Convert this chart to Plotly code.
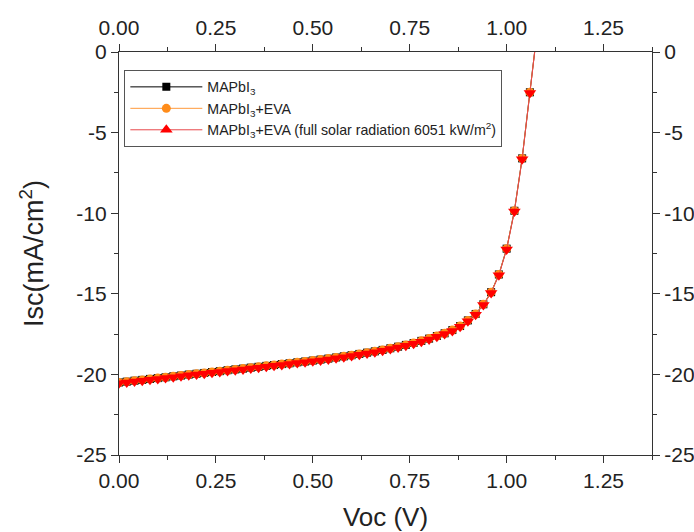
import plotly.graph_objects as go

voc = [0.00, 0.02, 0.04, 0.06, 0.08, 0.10, 0.12, 0.14, 0.16, 0.18,
       0.20, 0.22, 0.24, 0.26, 0.28, 0.30, 0.32, 0.34, 0.36, 0.38,
       0.40, 0.42, 0.44, 0.46, 0.48, 0.50, 0.52, 0.54, 0.56, 0.58,
       0.60, 0.62, 0.64, 0.66, 0.68, 0.70, 0.72, 0.74, 0.76, 0.78,
       0.80, 0.82, 0.84, 0.86, 0.88, 0.90, 0.92, 0.94, 0.96, 0.98,
       1.00, 1.02, 1.04, 1.06, 1.08]

isc_mapbi3 = [-20.50, -20.45, -20.39, -20.34, -20.28, -20.23, -20.18, -20.12, -20.07, -20.01,
              -19.96, -19.91, -19.85, -19.80, -19.74, -19.69, -19.64, -19.58, -19.53, -19.47,
              -19.42, -19.36, -19.31, -19.25, -19.20, -19.14, -19.08, -19.02, -18.95, -18.88,
              -18.81, -18.73, -18.65, -18.57, -18.48, -18.38, -18.28, -18.17, -18.05, -17.92,
              -17.78, -17.62, -17.45, -17.25, -17.00, -16.65, -16.25, -15.65, -14.90, -13.80,
              -12.20, -9.85, -6.60, -2.50, 1.60]

isc_eva = [-20.50, -20.45, -20.39, -20.34, -20.28, -20.23, -20.18, -20.12, -20.07, -20.01,
           -19.96, -19.91, -19.85, -19.80, -19.74, -19.69, -19.64, -19.58, -19.53, -19.47,
           -19.42, -19.36, -19.31, -19.25, -19.20, -19.14, -19.08, -19.02, -18.95, -18.88,
           -18.81, -18.73, -18.65, -18.57, -18.48, -18.38, -18.28, -18.17, -18.05, -17.92,
           -17.78, -17.62, -17.45, -17.25, -17.00, -16.65, -16.25, -15.65, -14.90, -13.80,
           -12.20, -9.85, -6.60, -2.50, 1.60]

isc_eva_full = [-20.55, -20.50, -20.44, -20.39, -20.33, -20.28, -20.23, -20.17, -20.12, -20.06,
                -20.01, -19.96, -19.90, -19.85, -19.79, -19.74, -19.69, -19.63, -19.58, -19.52,
                -19.47, -19.41, -19.36, -19.30, -19.25, -19.19, -19.13, -19.07, -19.00, -18.93,
                -18.86, -18.78, -18.70, -18.62, -18.53, -18.43, -18.33, -18.22, -18.10, -17.97,
                -17.83, -17.67, -17.50, -17.30, -17.05, -16.70, -16.30, -15.70, -14.95, -13.85,
                -12.25, -9.90, -6.65, -2.55, 1.55]

x_ticks = [0.00, 0.25, 0.50, 0.75, 1.00, 1.25]
x_tick_labels = ["0.00", "0.25", "0.50", "0.75", "1.00", "1.25"]
y_ticks = [0, -5, -10, -15, -20, -25]
y_tick_labels = ["0", "-5", "-10", "-15", "-20", "-25"]

names = ["MAPbI<sub>3</sub>", "MAPbI<sub>3</sub>+EVA",
         "MAPbI<sub>3</sub>+EVA (full solar radiation 6051 kW/m<sup>2</sup>)"]

FONT = "Liberation Sans, Arial"

fig = go.Figure()

fig.add_trace(go.Scatter(x=voc, y=isc_mapbi3, mode="lines+markers", name=names[0],
                         line=dict(color="#000000", width=1),
                         marker=dict(symbol="square", size=8, color="#000000")))
fig.add_trace(go.Scatter(x=voc, y=isc_eva, mode="lines+markers", name=names[1],
                         line=dict(color="#FF9A3C", width=1),
                         marker=dict(symbol="circle", size=9, color="#FF8C1A")))
fig.add_trace(go.Scatter(x=voc, y=isc_eva_full, mode="lines+markers", name=names[2],
                         showlegend=False,
                         line=dict(color="#E8474A", width=1),
                         marker=dict(symbol="triangle-down", size=11, color="#FF0000")))
fig.add_trace(go.Scatter(x=[None], y=[None], mode="lines+markers", name=names[2],
                         line=dict(color="#E8474A", width=1),
                         marker=dict(symbol="triangle-up", size=11, color="#FF0000")))
# invisible trace to anchor secondary axes
fig.add_trace(go.Scatter(x=[None], y=[None], xaxis="x2", yaxis="y2", showlegend=False,
                         hoverinfo="skip"))

axis_common = dict(showline=True, linecolor="#333333", linewidth=1.3,
                   ticks="outside", ticklen=7, tickwidth=1.3, tickcolor="#333333",
                   showgrid=False, zeroline=False, automargin=False,
                   tickfont=dict(family=FONT, size=21, color="#222222"))

fig.update_layout(
    width=694, height=532,
    margin=dict(l=119, r=42, t=52, b=77),
    paper_bgcolor="white", plot_bgcolor="white",
    xaxis=dict(range=[0, 1.375], tickvals=x_ticks, ticktext=x_tick_labels,
               minor=dict(dtick=0.125, tick0=0, ticks="outside", ticklen=4,
                          tickwidth=1.3, tickcolor="#333333"),
               title=dict(text="Voc (V)", font=dict(family=FONT, size=26, color="#222222"),
                          standoff=20),
               **axis_common),
    yaxis=dict(range=[-25, 0], tickvals=y_ticks, ticktext=y_tick_labels,
               minor=dict(dtick=2.5, tick0=0, ticks="outside", ticklen=4,
                          tickwidth=1.3, tickcolor="#333333"),
               title=dict(text="Isc(mA/cm<sup>2</sup>)",
                          font=dict(family=FONT, size=27, color="#222222"),
                          standoff=24),
               **axis_common),
    xaxis2=dict(range=[0, 1.375], overlaying="x", side="top", anchor="y",
                tickvals=x_ticks, ticktext=x_tick_labels,
                minor=dict(dtick=0.125, tick0=0, ticks="outside", ticklen=4,
                           tickwidth=1.3, tickcolor="#333333"),
                **axis_common),
    yaxis2=dict(range=[-25, 0], overlaying="y", side="right", anchor="x",
                tickvals=y_ticks, ticktext=y_tick_labels,
                minor=dict(dtick=2.5, tick0=0, ticks="outside", ticklen=4,
                           tickwidth=1.3, tickcolor="#333333"),
                **axis_common),
    legend=dict(x=0.01, y=0.955, xanchor="left", yanchor="top",
                bgcolor="white", bordercolor="#555555", borderwidth=1,
                font=dict(family=FONT, size=14.2, color="#222222"),
                tracegroupgap=0, itemwidth=72),
    showlegend=True,
)

fig.write_html("out.html")
